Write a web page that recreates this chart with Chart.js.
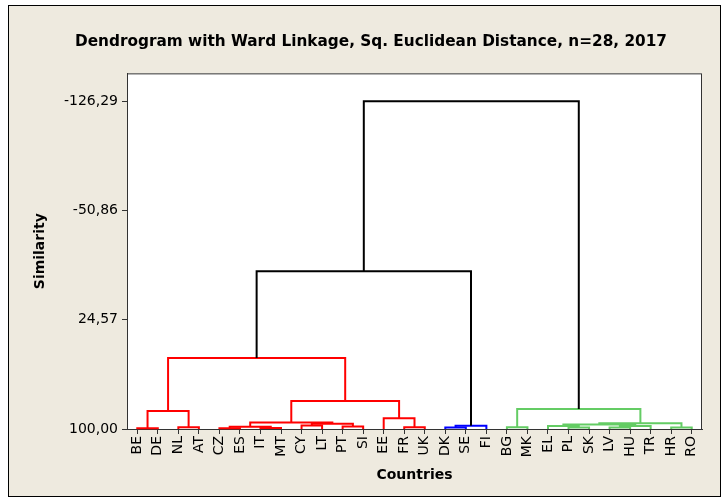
<!DOCTYPE html>
<html>
<head>
<meta charset="utf-8">
<script src="https://cdn.jsdelivr.net/npm/chart.js@4.4.1/dist/chart.umd.min.js"></script>
<style>
    body { margin: 0; background: #fff; }
    canvas { display: block; }
</style>
</head>
<body>
<canvas id="chart" width="726" height="501"></canvas>
<script>
// Dendrogram data: leaves 0..27, merge nodes 28..54 (scipy-style numbering)

const countries = ['BE', 'DE', 'NL', 'AT', 'CZ', 'ES', 'IT', 'MT', 'CY', 'LT', 'PT', 'SI', 'EE', 'FR',
    'UK', 'DK', 'SE', 'FI', 'BG', 'MK', 'EL', 'PL', 'SK', 'LV', 'HU', 'TR', 'HR', 'RO'];

const mergeLeft = [0, 2, 4, 6, 30, 8, 10, 33, 32, 13, 12, 36, 28, 40, 15, 42, 18, 21, 20, 23, 47, 46, 26, 49, 44, 41, 53];
const mergeRight = [1, 3, 5, 7, 31, 9, 11, 34, 35, 14, 37, 38, 29, 39, 16, 17, 19, 22, 45, 24, 25, 48, 27, 50, 51, 43, 52];
const mergeSimilarity = [99.5, 98.8, 99.5, 99.3, 98.4, 97.6, 98.3, 96.4, 95.5, 98.8, 92.6, 80.7, 87.6, 51.0,
    99.0, 97.7, 98.8, 99.0, 97.9, 99.0, 97.9, 96.9, 99.0, 96.1, 86.2, -9.0, -126.29];
// 0 = linking (black), 1 = red cluster, 2 = blue cluster, 3 = green cluster
const mergeCluster = [1, 1, 1, 1, 1, 1, 1, 1, 1, 1, 1, 1, 1, 1, 2, 2, 3, 3, 3, 3, 3, 3, 3, 3, 3, 0, 0];

const leafSimilarity = 100;
const yTicks = [-126.29, -50.86, 24.57, 100.00];

const clusterColors = ['#000000', '#ff0000', '#0000ff', '#64cc64'];
const fontFamily = "'DejaVu Sans', Tahoma, sans-serif";

// node positions (x = leaf index, y = similarity)
const nodes = countries.map((c, i) => ({ x: i, y: leafSimilarity }));
mergeLeft.forEach((l, i) => {
    const a = nodes[l], b = nodes[mergeRight[i]];
    nodes.push({ x: (a.x + b.x) / 2, y: mergeSimilarity[i] });
});

const datasets = mergeLeft.map((l, i) => {
    const a = nodes[l], b = nodes[mergeRight[i]], h = mergeSimilarity[i];
    return {
        data: [{ x: a.x, y: a.y }, { x: a.x, y: h }, { x: b.x, y: h }, { x: b.x, y: b.y }],
        borderColor: clusterColors[mergeCluster[i]],
        borderWidth: 2,
        pointRadius: 0,
        tension: 0,
        fill: false,
        clip: 4,
        order: mergeCluster[i] === 0 ? 0 : 1
    };
});

const framePlugin = {
    id: 'frame',
    beforeDraw(chart) {
        const { ctx, chartArea: a, width, height } = chart;
        ctx.save();
        ctx.fillStyle = '#ffffff';
        ctx.fillRect(0, 0, width, height);
        ctx.fillStyle = '#eeeadf';
        ctx.fillRect(8, 5, 713, 492);
        ctx.strokeStyle = '#000';
        ctx.lineWidth = 1;
        ctx.strokeRect(8.5, 5.5, 712, 491);
        ctx.fillStyle = '#ffffff';
        ctx.fillRect(a.left, a.top, a.width, a.height);
        ctx.strokeStyle = '#333';
        ctx.strokeRect(a.left + 0.5, a.top + 0.5, a.width - 1, a.height);
        ctx.restore();
    }
};

new Chart(document.getElementById('chart'), {
    type: 'line',
    data: { datasets: datasets },
    plugins: [framePlugin],
    options: {
        responsive: false,
        animation: false,
        layout: { padding: { left: 40, right: 24, top: 0, bottom: 0 } },
        plugins: {
            legend: { display: false },
            tooltip: { enabled: false },
            title: {
                display: true,
                text: 'Dendrogram with Ward Linkage, Sq. Euclidean Distance, n=28, 2017',
                color: '#000',
                font: { family: fontFamily, size: 15.3, weight: 'bold' },
                padding: { top: 33, bottom: 22 }
            }
        },
        scales: {
            x: {
                type: 'linear',
                min: -0.5,
                max: 27.5,
                afterBuildTicks: scale => { scale.ticks = countries.map((c, i) => ({ value: i })); },
                afterFit: scale => { scale.height = 72; },
                ticks: {
                    autoSkip: false,
                    minRotation: 90,
                    maxRotation: 90,
                    padding: 2,
                    color: '#000',
                    font: { family: fontFamily, size: 14 },
                    callback: v => countries[v]
                },
                grid: { display: true, drawOnChartArea: false, drawTicks: true, tickLength: 5, color: '#333' },
                border: { display: true, color: '#333' },
                title: {
                    display: true,
                    text: 'Countries',
                    color: '#000',
                    font: { family: fontFamily, size: 14, weight: 'bold' },
                    padding: { top: 0, bottom: 17 }
                }
            },
            y: {
                reverse: true,
                min: -145.61,
                max: 100,
                afterBuildTicks: scale => { scale.ticks = yTicks.map(v => ({ value: v })); },
                afterFit: scale => { scale.width = 87; },
                ticks: {
                    padding: 4,
                    color: '#000',
                    font: { family: fontFamily, size: 14 },
                    callback: v => v.toFixed(2).replace('.', ',')
                },
                grid: { display: true, drawOnChartArea: false, drawTicks: true, tickLength: 5, color: '#333' },
                border: { display: true, color: '#333' },
                title: {
                    display: true,
                    text: 'Similarity',
                    color: '#000',
                    font: { family: fontFamily, size: 14, weight: 'bold' },
                    padding: { top: -8, bottom: 0 }
                }
            }
        }
    }
});
</script>
</body>
</html>
